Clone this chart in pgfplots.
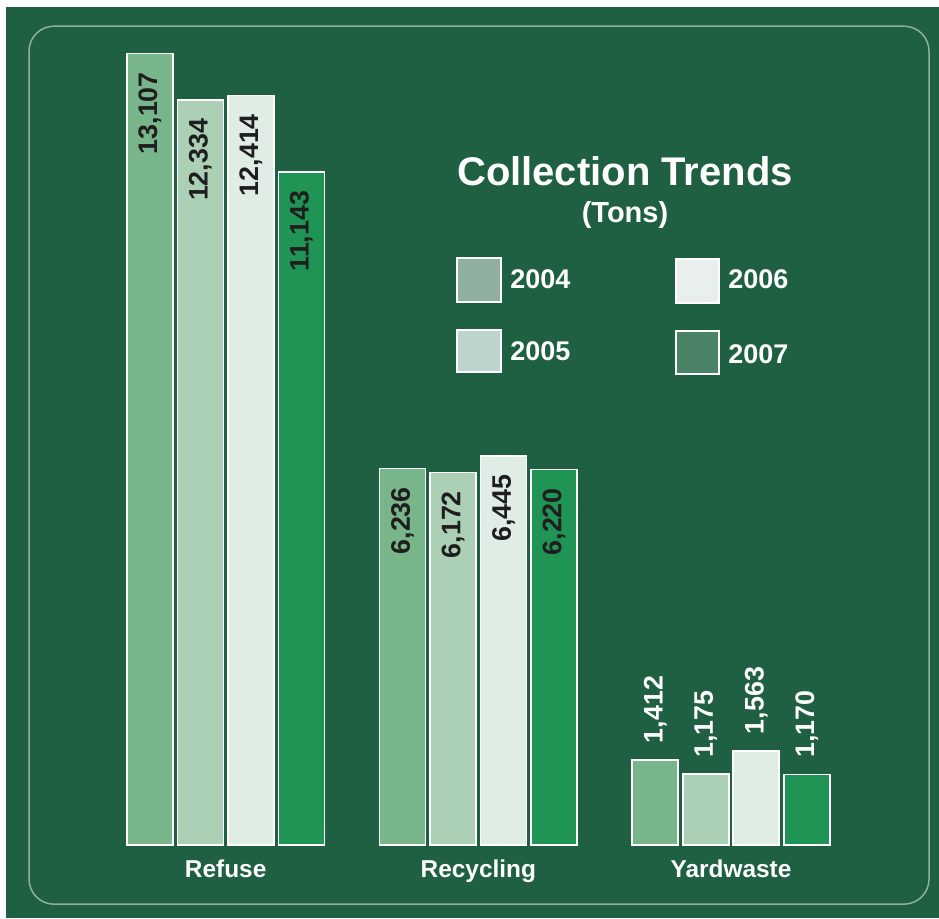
\documentclass[border=0pt]{standalone}
\usepackage{fontspec}
\setmainfont{Liberation Sans}
\usepackage{pgfplots}
\pgfplotsset{compat=1.18}

\definecolor{panel}{RGB}{30,96,65}
\definecolor{frameline}{RGB}{140,178,158}
\definecolor{yr2004}{RGB}{120,181,139}
\definecolor{yr2005}{RGB}{171,208,182}
\definecolor{yr2006}{RGB}{224,237,228}
\definecolor{yr2007}{RGB}{32,148,85}
\definecolor{lg2004}{RGB}{143,176,160}
\definecolor{lg2005}{RGB}{190,211,201}
\definecolor{lg2006}{RGB}{233,239,236}
\definecolor{lg2007}{RGB}{74,130,102}
\definecolor{labeldark}{RGB}{30,30,30}

\pgfplotsset{
  vallabel/.style={
    nodes near coords={\pgfmathprintnumber[fixed,precision=0,1000 sep={,},assume math mode=true]{\pgfplotspointmeta}},
    every node near coord/.append style={rotate=90, inner ysep=0pt,
      font=\bfseries\fontsize{13.4}{15}\selectfont}},
  inlabel/.style={vallabel,
    every node near coord/.append style={anchor=east, inner xsep=9pt, text=labeldark}},
  outlabel/.style={vallabel,
    every node near coord/.append style={anchor=west, inner xsep=8pt, text=white}},
}

\begin{document}
\begin{tikzpicture}[x=1pt,y=1pt]
\fill[white] (0,0) rectangle (469.5,459);
\fill[panel] (3,0) rectangle (469.5,455.5);
\draw[frameline, line width=0.75pt, rounded corners=12.5pt] (14.5,7) rectangle (464.5,446);

\begin{axis}[
    at={(0,0)}, anchor=south west,
    width=469.5pt, height=459pt, scale only axis,
    xmin=-0.893, xmax=2.823,
    ymin=-1208.6, ymax=13990,
    axis line style={draw=none},
    major tick length=0pt,
    ytick=\empty,
    xtick={0,1,2},
    xticklabels={Refuse,Recycling,Yardwaste},
    xticklabel style={anchor=base, yshift=20.5pt, text=white,
      font=\bfseries\fontsize{12.2}{14}\selectfont},
    ybar, bar width=23pt,
    clip=false,
    every axis plot/.append style={draw=white, line width=0.75pt},
]

% Refuse and Recycling: labels inside the bars
\addplot[fill=yr2004, bar shift=-37.9pt, inlabel] coordinates {(0,13107) (1,6236)};
\addplot[fill=yr2005, bar shift=-12.6pt, inlabel] coordinates {(0,12334) (1,6172)};
\addplot[fill=yr2006, bar shift=12.6pt, inlabel] coordinates {(0,12414) (1,6445)};
\addplot[fill=yr2007, bar shift=37.9pt, inlabel] coordinates {(0,11143) (1,6220)};

% Yardwaste: labels above the bars
\addplot[fill=yr2004, bar shift=-37.9pt, outlabel] coordinates {(2,1412)};
\addplot[fill=yr2005, bar shift=-12.6pt, outlabel] coordinates {(2,1175)};
\addplot[fill=yr2006, bar shift=12.6pt, outlabel] coordinates {(2,1563)};
\addplot[fill=yr2007, bar shift=37.9pt, outlabel] coordinates {(2,1170)};

\end{axis}

% title
\node[anchor=base, text=white, font=\bfseries\fontsize{20}{24}\selectfont] at (312.5,366.5) {Collection Trends};
\node[anchor=base, text=white, font=\bfseries\fontsize{14.5}{17}\selectfont] at (312.5,348) {(Tons)};

% legend
\draw[white, line width=0.75pt, fill=lg2004] (228.5,308) rectangle (250.5,330);
\draw[white, line width=0.75pt, fill=lg2005] (228.5,273) rectangle (250.5,294);
\draw[white, line width=0.75pt, fill=lg2006] (338,307.5) rectangle (359.5,329.5);
\draw[white, line width=0.75pt, fill=lg2007] (338,272) rectangle (359.5,293.5);
\begin{scope}[every node/.style={anchor=base west, inner sep=0pt, text=white, font=\bfseries\fontsize{13.5}{16}\selectfont}]
\node at (255,315) {2004};
\node at (255,279) {2005};
\node at (364,315) {2006};
\node at (364,277.5) {2007};
\end{scope}
\end{tikzpicture}
\end{document}
